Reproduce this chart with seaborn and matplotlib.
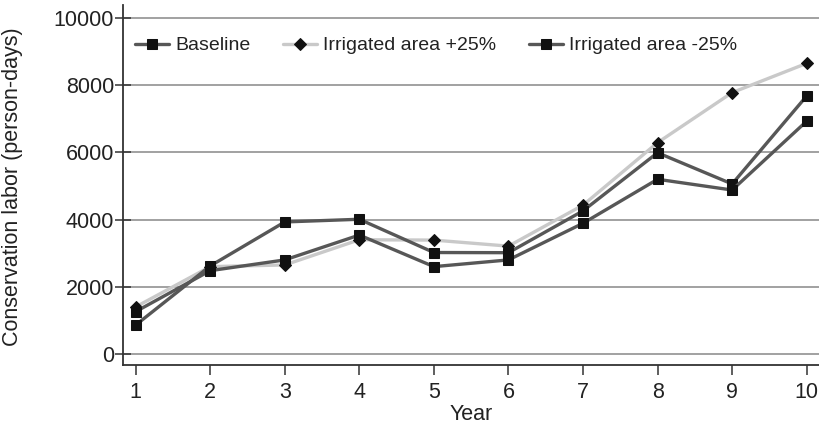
import matplotlib
matplotlib.use("Agg")
import matplotlib.pyplot as plt
import numpy as np
import pandas as pd
import seaborn as sns

years = [1, 2, 3, 4, 5, 6, 7, 8, 9, 10]
baseline = [860, 2620, 3930, 4010, 3020, 3015, 4260, 5990, 5060, 7680]
irr_plus25 = [1400, 2600, 2650, 3400, 3390, 3210, 4430, 6290, 7780, 8650]
irr_minus25 = [1260, 2480, 2800, 3540, 2600, 2800, 3890, 5200, 4880, 6930]
series_names = ["Baseline", "Irrigated area +25%", "Irrigated area -25%"]

df = pd.DataFrame({
    "Year": years * 3,
    "Labor": baseline + irr_plus25 + irr_minus25,
    "Scenario": np.repeat(series_names, len(years)),
})

sns.set_style("white")
plt.rcParams["font.family"] = ["Liberation Sans", "DejaVu Sans"]

fig = plt.figure(figsize=(8.19, 4.3), dpi=100)
ax = fig.add_axes([0.1505, 0.1512, 0.8495, 0.8372])

pal = {"Baseline": "#575757", "Irrigated area +25%": "#c9c9c9", "Irrigated area -25%": "#575757"}
mk = {"Baseline": "s", "Irrigated area +25%": "D", "Irrigated area -25%": "s"}

# light line first so dark lines sit on top like the original
for name in ["Irrigated area +25%", "Baseline", "Irrigated area -25%"]:
    sub = df[df["Scenario"] == name]
    sns.lineplot(data=sub, x="Year", y="Labor", ax=ax, color=pal[name], marker=mk[name],
                 markersize=6.5, markerfacecolor="#111111",
                 markeredgecolor="#111111", linewidth=2.4, label=name, legend=False)

ax.set_xlim(0.834, 10.165)
ax.set_ylim(-327, 10387)
ax.set_xticks(years)
ax.set_yticks([0, 2000, 4000, 6000, 8000, 10000])
for y in [0, 2000, 4000, 6000, 8000, 10000]:
    ax.axhline(y, color="#9a9a9a", linewidth=1.3, zorder=0)

for s in ["top", "right"]:
    ax.spines[s].set_visible(False)
for s in ["left", "bottom"]:
    ax.spines[s].set_color("#333333")
    ax.spines[s].set_linewidth(1.3)

ax.tick_params(axis="y", direction="inout", length=11, width=1.1, color="#333333",
               labelsize=15.5, labelcolor="#222222", pad=1, left=True)
ax.tick_params(axis="x", direction="out", length=7, width=1.1, color="#333333",
               labelsize=15.5, labelcolor="#222222", pad=5, bottom=True)

ax.set_xlabel("Year", fontsize=15.5, color="#222222", labelpad=1)
ax.set_ylabel("Conservation labor (person-days)", fontsize=15.5, color="#222222")
ax.yaxis.set_label_coords(-0.144, 0.495)

handles, labels = ax.get_legend_handles_labels()
order = [labels.index(n) for n in series_names]
ax.legend([handles[i] for i in order], [labels[i] for i in order], ncol=3, frameon=False,
          loc="upper left", bbox_to_anchor=(-0.008, 0.96), fontsize=14, handlelength=1.75,
          handletextpad=0.3, columnspacing=1.7, labelcolor="#222222")

fig.savefig("out.png", dpi=100)
